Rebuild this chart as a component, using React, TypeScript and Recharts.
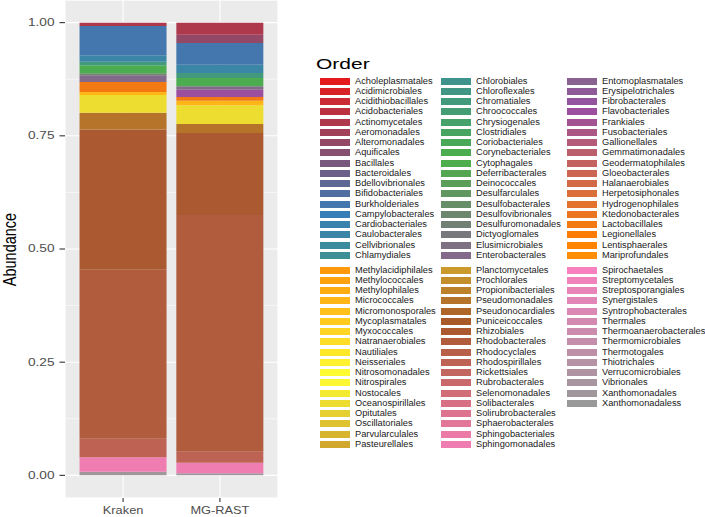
import React from 'react';
import { BarChart, Bar, XAxis, YAxis, CartesianGrid } from 'recharts';

// ---------- data ----------
const samples = ['Kraken', 'MG-RAST'];

const orders = [
  'Acholeplasmatales', 'Acidimicrobiales', 'Acidithiobacillales', 'Acidobacteriales', 'Actinomycetales',
  'Aeromonadales', 'Alteromonadales', 'Aquificales', 'Bacillales', 'Bacteroidales', 'Bdellovibrionales',
  'Bifidobacteriales', 'Burkholderiales', 'Campylobacterales', 'Cardiobacteriales', 'Caulobacterales',
  'Cellvibrionales', 'Chlamydiales',
  'Chlorobiales', 'Chloroflexales', 'Chromatiales', 'Chroococcales', 'Chrysiogenales', 'Clostridiales',
  'Coriobacteriales', 'Corynebacteriales', 'Cytophagales', 'Deferribacterales', 'Deinococcales',
  'Desulfarculales', 'Desulfobacterales', 'Desulfovibrionales', 'Desulfuromonadales', 'Dictyoglomales',
  'Elusimicrobiales', 'Enterobacterales',
  'Entomoplasmatales', 'Erysipelotrichales', 'Fibrobacterales', 'Flavobacteriales', 'Frankiales',
  'Fusobacteriales', 'Gallionellales', 'Gemmatimonadales', 'Geodermatophilales', 'Gloeobacterales',
  'Halanaerobiales', 'Herpetosiphonales', 'Hydrogenophilales', 'Ktedonobacterales', 'Lactobacillales',
  'Legionellales', 'Lentisphaerales', 'Mariprofundales',
  'Methylacidiphilales', 'Methylococcales', 'Methylophilales', 'Micrococcales', 'Micromonosporales',
  'Mycoplasmatales', 'Myxococcales', 'Natranaerobiales', 'Nautiliales', 'Neisseriales', 'Nitrosomonadales',
  'Nitrospirales', 'Nostocales', 'Oceanospirillales', 'Opitutales', 'Oscillatoriales', 'Parvularculales',
  'Pasteurellales',
  'Planctomycetales', 'Prochlorales', 'Propionibacteriales', 'Pseudomonadales', 'Pseudonocardiales',
  'Puniceicoccales', 'Rhizobiales', 'Rhodobacterales', 'Rhodocyclales', 'Rhodospirillales', 'Rickettsiales',
  'Rubrobacterales', 'Selenomonadales', 'Solibacterales', 'Solirubrobacterales', 'Sphaerobacterales',
  'Sphingobacteriales', 'Sphingomonadales',
  'Spirochaetales', 'Streptomycetales', 'Streptosporangiales', 'Synergistales', 'Syntrophobacterales',
  'Thermales', 'Thermoanaerobacterales', 'Thermomicrobiales', 'Thermotogales', 'Thiotrichales',
  'Verrucomicrobiales', 'Vibrionales', 'Xanthomonadales', 'Xanthomonadaless',
];

// orders with a visible share (relative abundance)
const presentOrders = [
  'Actinomycetales', 'Alteromonadales', 'Burkholderiales', 'Caulobacterales', 'Chromatiales',
  'Corynebacteriales', 'Desulfovibrionales', 'Enterobacterales', 'Flavobacteriales', 'Lactobacillales',
  'Micrococcales', 'Oceanospirillales', 'Pseudomonadales', 'Rhizobiales', 'Rhodobacterales',
  'Rhodospirillales', 'Sphingomonadales', 'Xanthomonadales',
];
const krakenAbundance = [
  0.0073, 0, 0.0646, 0.0146, 0.0075,
  0.018, 0.004, 0.015, 0, 0.022,
  0.007, 0.039, 0.037, 0.31, 0.373,
  0.041, 0.032, 0.008,
];
const mgrastAbundance = [
  0.0265, 0.0183, 0.0479, 0.0183, 0.011,
  0.0183, 0, 0.0075, 0.0161, 0.0082,
  0.0102, 0.0413, 0.0199, 0.1811, 0.5229,
  0.0243, 0.0234, 0.0044,
];

const yTicks = [0, 0.25, 0.5, 0.75, 1];
const yMinorTicks = [0.125, 0.375, 0.625, 0.875];
const yDomain = [-0.05, 1.05];

// ---------- palette (Set1 colour ramp) ----------
const SET1 = ['#E41A1C', '#377EB8', '#4DAF4A', '#984EA3', '#FF7F00', '#FFFF33', '#A65628', '#F781BF', '#999999'];
const hexToRgb = (h: string) => [1, 3, 5].map((k) => parseInt(h.slice(k, k + 2), 16));
const rampColor = (i: number, n: number) => {
  const t = (i * (SET1.length - 1)) / (n - 1);
  const k = Math.min(SET1.length - 2, Math.floor(t));
  const f = t - k;
  const a = hexToRgb(SET1[k]);
  const b = hexToRgb(SET1[k + 1]);
  const c = a.map((v, j) => Math.round(v + (b[j] - v) * f));
  return '#' + c.map((v) => v.toString(16).padStart(2, '0')).join('');
};
const colorOf: Record<string, string> = {};
orders.forEach((o, i) => {
  colorOf[o] = rampColor(i, orders.length);
});

const rows = samples.map((s, si) => {
  const r: Record<string, any> = { name: s };
  presentOrders.forEach((o, oi) => {
    r[o] = si === 0 ? krakenAbundance[oi] : mgrastAbundance[oi];
  });
  return r;
});

// stack: first factor level on top -> render last level first (bottom)
const stackOrder = [...presentOrders].sort((a, b) => orders.indexOf(b) - orders.indexOf(a));

const FONT = '"Liberation Sans", Arial, Helvetica, sans-serif';

const YTick = (p: any) => (
  <text
    transform={`translate(${p.x},${p.y}) scale(1.3,1)`}
    textAnchor="end"
    dominantBaseline="central"
    fontSize={10.5}
    fontFamily={FONT}
    fill="#4D4D4D"
  >
    {Number(p.payload.value).toFixed(2)}
  </text>
);

const XTick = (p: any) => (
  <text
    transform={`translate(${p.x},${p.y}) scale(1.22,1)`}
    textAnchor="middle"
    dy={9.5}
    fontSize={10.5}
    fontFamily={FONT}
    fill="#4D4D4D"
  >
    {p.payload.value}
  </text>
);

const colLefts = [320, 441, 567];
const blockTops = [77.7, 266.7];
const rowPitch = 10.25;

export default function App() {
  return (
    <div style={{ position: 'absolute', left: 0, top: 0, width: 705, height: 517, background: '#FFFFFF', fontFamily: FONT, overflow: 'hidden' }}>
      <BarChart width={278} height={517} data={rows} margin={{ top: 0, right: 0, left: 0, bottom: 0 }} barCategoryGap="5%">
        <CartesianGrid fill="#EBEBEB" stroke="#FFFFFF" strokeWidth={1.1} />
        <CartesianGrid stroke="#FFFFFF" strokeWidth={0.55} vertical={false} yAxisId="minor" />
        <XAxis
          dataKey="name"
          padding={{ left: 9.7, right: 9.7 }}
          height={19}
          tickSize={4}
          tickMargin={2}
          axisLine={false}
          tickLine={{ stroke: '#333333', strokeWidth: 1.1 }}
          tick={XTick}
          interval={0}
        />
        <YAxis
          type="number"
          domain={yDomain}
          ticks={yTicks}
          allowDataOverflow
          width={65}
          tickSize={5.5}
          tickMargin={5}
          axisLine={false}
          tickLine={{ stroke: '#333333', strokeWidth: 1.1 }}
          tick={YTick}
        />
        <YAxis yAxisId="minor" type="number" domain={yDomain} ticks={yMinorTicks} allowDataOverflow hide />
        {stackOrder.map((o) => (
          <Bar key={o} dataKey={o} stackId="a" fill={colorOf[o]} isAnimationActive={false} />
        ))}
      </BarChart>

      <svg style={{ position: 'absolute', left: 0, top: 0 }} width={30} height={517}>
        <text
          transform="translate(15.5,249.5) scale(1.25,1) rotate(-90)"
          textAnchor="middle"
          fontSize={14.5}
          fontFamily={FONT}
          fill="#000000"
        >
          Abundance
        </text>
      </svg>

      <div
        style={{
          position: 'absolute',
          left: 316,
          top: 55,
          fontSize: 15,
          lineHeight: '18px',
          color: '#000',
          transform: 'scaleX(1.4)',
          transformOrigin: 'left top',
        }}
      >
        Order
      </div>

      {orders.map((o, i) => {
        const block = Math.floor(i / 54);
        const j = i % 54;
        const col = Math.floor(j / 18);
        const row = j % 18;
        const top = blockTops[block] + row * rowPitch;
        return (
          <div
            key={o}
            style={{
              position: 'absolute',
              left: colLefts[col],
              top: top,
              height: 7,
              display: 'flex',
              alignItems: 'center',
              whiteSpace: 'nowrap',
            }}
          >
            <div style={{ width: 30, height: 7, background: colorOf[o], flex: 'none' }} />
            <span style={{ marginLeft: 5, fontSize: 9.25, lineHeight: '7px', color: '#1A1A1A' }}>{o}</span>
          </div>
        );
      })}
    </div>
  );
}
